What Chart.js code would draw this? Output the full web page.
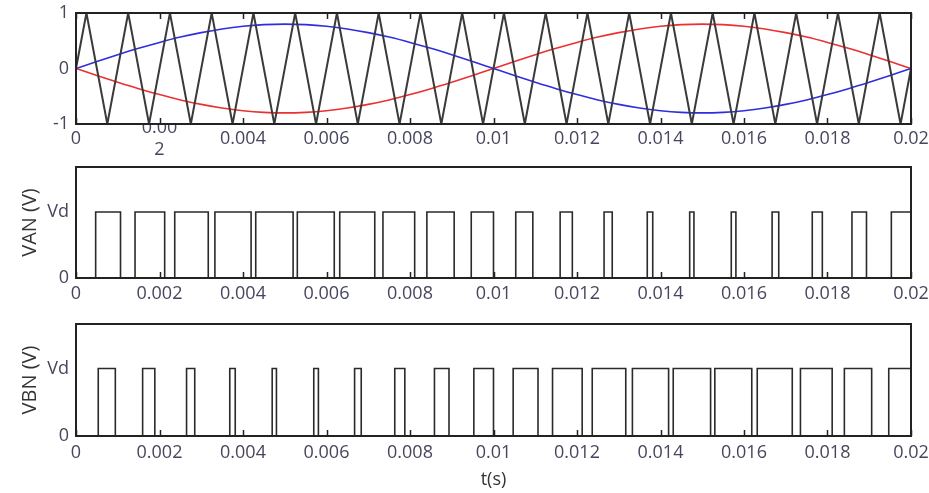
<!DOCTYPE html>
<html>
<head>
<meta charset="utf-8">
<script src="https://cdn.jsdelivr.net/npm/chart.js@4.4.0/dist/chart.umd.min.js"></script>
<style>
  body { margin: 0; background: #fff; }
  #wrap { position: relative; width: 929px; height: 493px; background: #fff; }
  canvas { position: absolute; left: 0; }
</style>
</head>
<body>
<div id="wrap">
  <canvas id="c1" width="929" height="160" style="top:0px"></canvas>
  <canvas id="c2" width="929" height="145" style="top:160px"></canvas>
  <canvas id="c3" width="929" height="188" style="top:305px"></canvas>
</div>
<script>
// valeurs (temps en secondes)
const xTicks = [0, 0.002, 0.004, 0.006, 0.008, 0.01, 0.012, 0.014, 0.016, 0.018, 0.02];
const xTickLabels = ['0', '0.002', '0.004', '0.006', '0.008', '0.01', '0.012', '0.014', '0.016', '0.018', '0.02'];
const topXTickLabels = ['0', ['0.00', '2'], '0.004', '0.006', '0.008', '0.01', '0.012', '0.014', '0.016', '0.018', '0.02'];

const topYTicks = [-1, 0, 1];
const topYLabels = ['-1', '0', '1'];
const pwmYTicks = [0, 1];
const pwmYLabels = ['0', 'Vd'];

// porteuse triangulaire (sommets)
const carrierT = [0, 0.00025, 0.00075, 0.00125, 0.00175, 0.00225, 0.00275, 0.00325, 0.00375, 0.00425, 0.00475,
  0.00525, 0.00575, 0.00625, 0.00675, 0.00725, 0.00775, 0.00825, 0.00875, 0.00925, 0.00975,
  0.01025, 0.01075, 0.01125, 0.01175, 0.01225, 0.01275, 0.01325, 0.01375, 0.01425, 0.01475,
  0.01525, 0.01575, 0.01625, 0.01675, 0.01725, 0.01775, 0.01825, 0.01875, 0.01925, 0.01975, 0.02];
const carrierV = [0, 1, -1, 1, -1, 1, -1, 1, -1, 1, -1,
  1, -1, 1, -1, 1, -1, 1, -1, 1, -1,
  1, -1, 1, -1, 1, -1, 1, -1, 1, -1,
  1, -1, 1, -1, 1, -1, 1, -1, 1, -1, 0];

// références sinusoïdales
const refT = [0, 0.0005, 0.001, 0.0015, 0.002, 0.0025, 0.003, 0.0035, 0.004, 0.0045, 0.005,
  0.0055, 0.006, 0.0065, 0.007, 0.0075, 0.008, 0.0085, 0.009, 0.0095, 0.01,
  0.0105, 0.011, 0.0115, 0.012, 0.0125, 0.013, 0.0135, 0.014, 0.0145, 0.015,
  0.0155, 0.016, 0.0165, 0.017, 0.0175, 0.018, 0.0185, 0.019, 0.0195, 0.02];
const refA = [0, 0.125, 0.247, 0.363, 0.47, 0.566, 0.647, 0.713, 0.761, 0.79, 0.8,
  0.79, 0.761, 0.713, 0.647, 0.566, 0.47, 0.363, 0.247, 0.125, 0,
  -0.125, -0.247, -0.363, -0.47, -0.566, -0.647, -0.713, -0.761, -0.79, -0.8,
  -0.79, -0.761, -0.713, -0.647, -0.566, -0.47, -0.363, -0.247, -0.125, 0];
const refB = [0, -0.125, -0.247, -0.363, -0.47, -0.566, -0.647, -0.713, -0.761, -0.79, -0.8,
  -0.79, -0.761, -0.713, -0.647, -0.566, -0.47, -0.363, -0.247, -0.125, 0,
  0.125, 0.247, 0.363, 0.47, 0.566, 0.647, 0.713, 0.761, 0.79, 0.8,
  0.79, 0.761, 0.713, 0.647, 0.566, 0.47, 0.363, 0.247, 0.125, 0];

// fronts des impulsions (montée, descente, montée, ...)
const vanEdges = [0.000471, 0.001066, 0.001414, 0.002124, 0.002365, 0.003168, 0.003327, 0.004194,
  0.004305, 0.0052, 0.005301, 0.006186, 0.006317, 0.007156, 0.007352, 0.008112,
  0.008404, 0.009058, 0.009467, 0.01, 0.010533, 0.010942, 0.011596, 0.011888,
  0.012648, 0.012844, 0.013683, 0.013814, 0.014699, 0.014801, 0.015695, 0.015806,
  0.016673, 0.016832, 0.017635, 0.017876, 0.018586, 0.018934, 0.019529];
const vbnEdges = [0.000533, 0.000942, 0.001596, 0.001888, 0.002648, 0.002844, 0.003683, 0.003814,
  0.004699, 0.004801, 0.005695, 0.005806, 0.006673, 0.006832, 0.007635, 0.007876,
  0.008586, 0.008934, 0.009529, 0.01, 0.010471, 0.011066, 0.011414, 0.012124,
  0.012365, 0.013168, 0.013327, 0.014194, 0.014305, 0.0152, 0.015301, 0.016186,
  0.016317, 0.017156, 0.017352, 0.018112, 0.018404, 0.019058, 0.019467];

const tickColor = '#46465e';
const tickFont = { family: "'Open Sans', sans-serif", size: 18 };

function pts(xs, ys) {
  return xs.map((x, i) => ({ x: x, y: ys[i] }));
}

function pulses(edges) {
  const out = [{ x: 0, y: 0 }];
  edges.forEach((t, i) => out.push({ x: t, y: i % 2 === 0 ? 1 : 0 }));
  out.push({ x: 0.02, y: edges.length % 2 === 1 ? 1 : 0 });
  return out;
}

// cadre autour de la zone de tracé + petites graduations intérieures
const frame = {
  id: 'frame',
  afterDatasetsDraw(chart, args, opts) {
    const a = chart.chartArea, ctx = chart.ctx, sx = chart.scales.x;
    ctx.save();
    ctx.strokeStyle = '#222';
    ctx.lineWidth = 1.5;
    ctx.beginPath();
    xTicks.forEach(v => {
      const px = Math.round(sx.getPixelForValue(v)) + 0.5;
      ctx.moveTo(px, a.bottom);
      ctx.lineTo(px, a.bottom - 6);
      if (opts.topTicks) {
        ctx.moveTo(px, a.top);
        ctx.lineTo(px, a.top + 6);
      }
    });
    ctx.stroke();
    ctx.lineWidth = 2;
    ctx.strokeRect(a.left, a.top, a.right - a.left, a.bottom - a.top);
    ctx.restore();
  }
};

function xAxis(labels, height, pad, align, title) {
  return {
    type: 'linear', position: 'bottom', min: 0, max: 0.02,
    afterBuildTicks: ax => { ax.ticks = xTicks.map(v => ({ value: v })); },
    afterFit: ax => { ax.height = height; ax.paddingLeft = 0; ax.paddingRight = 0; },
    ticks: {
      autoSkip: false, maxRotation: 0, minRotation: 0, padding: pad, crossAlign: align,
      color: tickColor, font: tickFont, callback: (v, i) => labels[i]
    },
    grid: { display: false, drawTicks: false },
    border: { display: false },
    title: title ? {
      display: true, text: title, color: '#333',
      font: { family: "'Open Sans', sans-serif", size: 18 }, padding: { top: 0, bottom: 2 }
    } : { display: false }
  };
}

function yAxis(min, max, ticks, labels, title) {
  return {
    type: 'linear', min: min, max: max,
    afterBuildTicks: ax => { ax.ticks = ticks.map(v => ({ value: v })); },
    afterFit: ax => { ax.width = 76; ax.paddingTop = 0; ax.paddingBottom = 0; },
    ticks: { padding: 7, color: tickColor, font: tickFont, callback: (v, i) => labels[i] },
    grid: { display: false, drawTicks: false },
    border: { display: false },
    title: title ? {
      display: true, text: title, color: '#333',
      font: { family: "'Open Sans', sans-serif", size: 20 }, padding: { top: 18, bottom: 0 }
    } : { display: false }
  };
}

function common(topTicks) {
  return {
    responsive: false,
    animation: false,
    plugins: { legend: { display: false }, tooltip: { enabled: false }, frame: { topTicks: topTicks } },
    elements: { point: { radius: 0 } }
  };
}

// panneau 1 : porteuse et références
new Chart(document.getElementById('c1'), {
  type: 'line',
  data: {
    datasets: [
      { data: pts(carrierT, carrierV), borderColor: '#3a3a3a', borderWidth: 2, tension: 0 },
      { data: pts(refT, refA), borderColor: '#2e2ee0', borderWidth: 1.6, cubicInterpolationMode: 'monotone' },
      { data: pts(refT, refB), borderColor: '#ec2f2f', borderWidth: 1.6, cubicInterpolationMode: 'monotone' }
    ]
  },
  options: Object.assign(common(true), {
    layout: { padding: { left: 0, right: 18, top: 13, bottom: 0 } },
    scales: {
      x: xAxis(topXTickLabels, 36, 4, 'center'),
      y: yAxis(-1, 1, topYTicks, topYLabels)
    }
  }),
  plugins: [frame]
});

// panneau 2 : VAN
new Chart(document.getElementById('c2'), {
  type: 'line',
  data: {
    datasets: [
      { data: pulses(vanEdges), borderColor: '#2a2a2a', borderWidth: 1.6, stepped: 'before' }
    ]
  },
  options: Object.assign(common(false), {
    layout: { padding: { left: 0, right: 18, top: 7, bottom: 0 } },
    scales: {
      x: xAxis(xTickLabels, 27, 5, 'near'),
      y: yAxis(0, 1.68, pwmYTicks, pwmYLabels, 'VAN (V)')
    }
  }),
  plugins: [frame]
});

// panneau 3 : VBN
new Chart(document.getElementById('c3'), {
  type: 'line',
  data: {
    datasets: [
      { data: pulses(vbnEdges), borderColor: '#2a2a2a', borderWidth: 1.6, stepped: 'before' }
    ]
  },
  options: Object.assign(common(false), {
    layout: { padding: { left: 0, right: 18, top: 19, bottom: 0 } },
    scales: {
      x: xAxis(xTickLabels, 57, 6, 'near', 't(s)'),
      y: yAxis(0, 1.66, pwmYTicks, pwmYLabels, 'VBN (V)')
    }
  }),
  plugins: [frame]
});
</script>
</body>
</html>
